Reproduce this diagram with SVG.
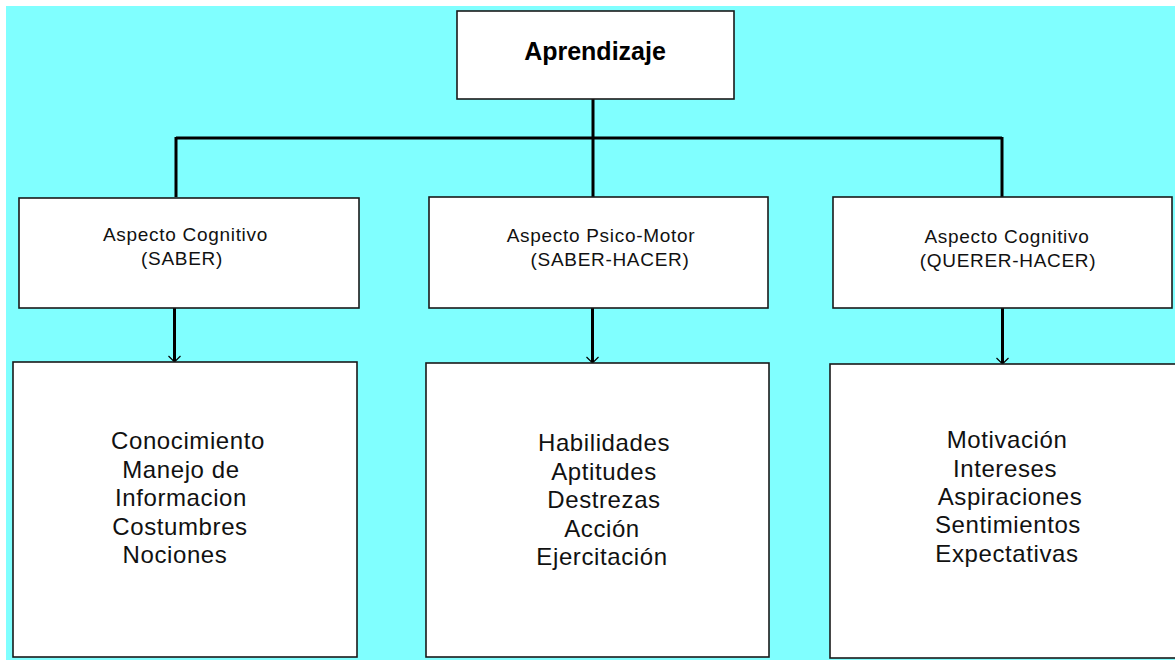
<svg xmlns="http://www.w3.org/2000/svg" width="1175" height="660" viewBox="0 0 1175 660">
<defs>
<style>
.box{fill:#fff;stroke:#1a1a1a;stroke-width:1.6}
.ln{fill:none;stroke:#000;stroke-width:3}
.ah{fill:none;stroke:#000;stroke-width:1.2}
.t1{font-family:"Liberation Sans",Arial,sans-serif;font-size:25px;font-weight:bold;fill:#000;text-anchor:middle}
.t2{font-family:"Liberation Sans",Arial,sans-serif;font-size:19px;letter-spacing:0.7px;fill:#111;text-anchor:middle}
.t3{font-family:"Liberation Sans",Arial,sans-serif;font-size:24px;letter-spacing:0.6px;fill:#111;text-anchor:middle}
</style>
</defs>
<rect x="0" y="0" width="1175" height="660" fill="#fff"/>
<rect x="6" y="6" width="1169" height="654" fill="#80ffff"/>
<g id="connectors">
<path class="ln" d="M593 99 V138 M176 138 H1002 M176 137 V197 M593 138 V197 M1002 137 V197"/>
<path class="ln" d="M174.5 308 V361 M592.5 308 V362 M1002.5 308 V363"/>
<path class="ah" d="M168.5 356 L174.5 362 L180.5 356 M586.5 357 L592.5 363 L598.5 357 M996.5 358 L1002.5 364 L1008.5 358"/>
</g>
<g id="aprendizaje">
<rect class="box" x="457" y="11" width="277" height="88"/>
<text class="t1" x="595" y="60">Aprendizaje</text>
</g>
<g id="saber">
<rect class="box" x="19" y="198" width="340" height="110"/>
<text class="t2" x="185.5" y="241">Aspecto Cognitivo</text>
<text class="t2" x="182" y="265">(SABER)</text>
</g>
<g id="saber-hacer">
<rect class="box" x="429" y="197" width="339" height="111"/>
<text class="t2" x="601" y="242">Aspecto Psico-Motor</text>
<text class="t2" x="610" y="266">(SABER-HACER)</text>
</g>
<g id="querer-hacer">
<rect class="box" x="833" y="197" width="339" height="111"/>
<text class="t2" x="1007" y="243">Aspecto Cognitivo</text>
<text class="t2" x="1008" y="267">(QUERER-HACER)</text>
</g>
<g id="saber-detalle">
<rect class="box" x="13" y="362" width="344" height="295"/>
<text class="t3" x="188" y="449">Conocimiento</text>
<text class="t3" x="181" y="478">Manejo de</text>
<text class="t3" x="181" y="506">Informacion</text>
<text class="t3" x="180" y="535">Costumbres</text>
<text class="t3" x="175" y="563">Nociones</text>
</g>
<g id="saber-hacer-detalle">
<rect class="box" x="426" y="363" width="343" height="294"/>
<text class="t3" x="604" y="451">Habilidades</text>
<text class="t3" x="604" y="480">Aptitudes</text>
<text class="t3" x="604" y="508">Destrezas</text>
<text class="t3" x="602" y="537">Acción</text>
<text class="t3" x="602" y="565">Ejercitación</text>
</g>
<g id="querer-hacer-detalle">
<rect class="box" x="830" y="364" width="360" height="294"/>
<text class="t3" x="1007" y="448">Motivación</text>
<text class="t3" x="1005" y="477">Intereses</text>
<text class="t3" x="1010" y="505">Aspiraciones</text>
<text class="t3" x="1008" y="533">Sentimientos</text>
<text class="t3" x="1007" y="562">Expectativas</text>
</g>
</svg>
